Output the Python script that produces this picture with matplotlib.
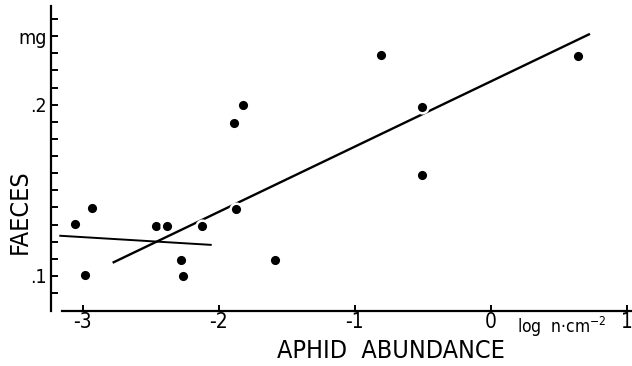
import matplotlib
matplotlib.use("Agg")
import matplotlib.pyplot as plt

# aphid abundance (log n/cm2) vs faeces (mg, log axis)
abundance = [-3.06, -2.93, -2.98, -2.46, -2.38, -2.12, -1.87, -2.28, -2.26,
             -1.59, -1.82, -1.89, -0.81, -0.51, -0.51, 0.64]
faeces = [0.1234, 0.1315, 0.1005, 0.1224, 0.1224, 0.1224, 0.1311, 0.1066, 0.0999,
          0.1067, 0.1997, 0.1855, 0.2448, 0.1984, 0.1505, 0.2439]

# fitted lines (end points)
fit_all_x = [-2.78, 0.727]
fit_all_y = [0.1055, 0.2663]
fit_low_x = [-3.172, -2.052]
fit_low_y = [0.1177, 0.1134]

xticks = [-3, -2, -1, 0, 1]
ytick_steps = list(range(-1, 16))
ytick_labels = {0: '.1', 10: '.2', 14: 'mg'}

plt.rcParams['font.family'] = ['DejaVu Sans']
plt.rcParams['font.stretch'] = 'condensed'

fig = plt.figure(figsize=(6.32, 3.66), dpi=100)
ax = fig.add_axes([50.7 / 632, (366 - 310.7) / 366, 580.5 / 632, (310.7 - 6) / 366])

ax.plot(fit_all_x, fit_all_y, color='black', lw=1.7, solid_capstyle='butt', zorder=2)
ax.plot(fit_low_x, fit_low_y, color='black', lw=1.4, solid_capstyle='butt', zorder=2)
ax.plot(abundance, faeces, 'o', color='black', ms=8.4, mfc='black',
        mec='white', mew=1.8, zorder=3)

ax.set_yscale('log')
ax.set_xlim(-3.235, 1.03)
ax.set_ylim(0.0869, 0.2981)

ax.set_xticks(xticks)
ax.set_xticklabels(['-3', '-2', '-1', '0', '1'], fontsize=15)
yt = [0.1 * 2 ** (k / 10) for k in ytick_steps]
ax.set_yticks(yt)
ax.set_yticklabels([ytick_labels.get(k, '') for k in ytick_steps], fontsize=14)
ax.yaxis.set_minor_locator(matplotlib.ticker.NullLocator())

ax.tick_params(axis='x', direction='in', length=4, width=1.4, pad=1)
ax.tick_params(axis='y', direction='in', length=5, width=1.4, pad=3)

ax.spines['top'].set_visible(False)
ax.spines['right'].set_visible(False)
ax.spines['left'].set_linewidth(1.6)
ax.spines['bottom'].set_linewidth(1.6)
ax.spines['bottom'].set_bounds(-3.15, 1.03)

ax.text(0.19, -0.073, 'log  n·cm$^{-2}$', transform=ax.get_xaxis_transform(),
        ha='left', va='baseline', fontsize=12.5)

ax.set_xlabel('APHID  ABUNDANCE', fontsize=18, va='center')
ax.xaxis.set_label_coords(0.586, -0.132)
ax.set_ylabel('FAECES', fontsize=18, va='center')
ax.yaxis.set_label_coords(-0.053, 0.324)

fig.savefig('out.png', dpi=100)
